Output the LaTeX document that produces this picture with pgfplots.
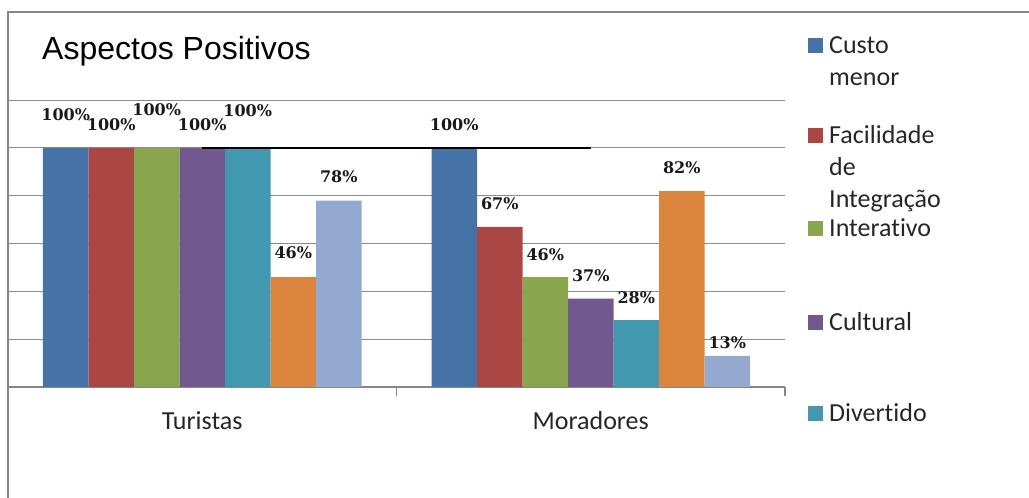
\documentclass[border=0pt]{standalone}
\usepackage{fontspec}
\setmainfont{Carlito}[Ligatures={NoCommon}]
\newfontfamily\titlefont{Liberation Sans}
\newfontfamily\numfont{DejaVu Serif}
\usepackage{pgfplots}
\usepackage{pgfplotstable}
\pgfplotsset{compat=1.18}

\definecolor{cA}{HTML}{4572A7}
\definecolor{cB}{HTML}{AA4643}
\definecolor{cC}{HTML}{89A54E}
\definecolor{cD}{HTML}{71588F}
\definecolor{cE}{HTML}{4198AF}
\definecolor{cF}{HTML}{DB843D}
\definecolor{cG}{HTML}{93A9CF}
\definecolor{gridgray}{RGB}{140,140,140}
\definecolor{framegray}{RGB}{134,134,134}

% x = 0 Turistas, x = 1 Moradores; dy = lift of the value label above the bar
\pgfplotstableread{
x y dy
0 100 27.3
1 100 17.3
}\custo
\pgfplotstableread{
x y dy
0 100 17.3
1 67 17
}\facilidade
\pgfplotstableread{
x y dy
0 100 32
1 46 17
}\interativo
\pgfplotstableread{
x y dy
0 100 17.3
1 37 17
}\cultural
\pgfplotstableread{
x y dy
0 100 31.3
1 28 17
}\divertido
\pgfplotstableread{
x y dy
0 46 19
1 82 17.7
}\serieF
\pgfplotstableread{
x y dy
0 78 17.6
1 13 7.7
}\serieG
\pgfplotstableread{
x y
0 100
1 100
}\total

% legend text: first-line baseline sits 8pt below the cell centre
\newcommand{\legtext}[2]{\raisebox{0pt}[\dimexpr#1+16pt\relax][#1]{\vtop{#2}}}

\begin{document}
\begin{tikzpicture}
\useasboundingbox (0pt,0pt) rectangle (1029pt,498pt);
\draw[framegray, line width=2pt] (8pt,0pt) -- (8pt,486pt) -- (1029pt,486pt);
\node[anchor=base west, inner sep=0pt, font=\titlefont\fontsize{32}{38}\selectfont]
  at (42pt,438pt) {Aspectos Positivos};
\begin{axis}[
  at={(8pt,111pt)}, anchor=south west,
  scale only axis, width=777pt, height=286.8pt,
  xmin=-0.5, xmax=1.5, ymin=0, ymax=120,
  clip=false,
  ybar=0pt, bar width=45.5pt,
  axis lines*=left,
  axis line style={draw=framegray, line width=1.2pt},
  ytick={20,40,...,120}, yticklabels={},
  ytick style={draw=none},
  ymajorgrids, grid style={draw=gridgray, line width=1pt},
  xtick={-0.5,0.5,1.5}, xticklabels={},
  tick align=outside, major tick length=9pt,
  xtick style={draw=framegray, line width=1.2pt},
  extra x ticks={0,1},
  extra x tick labels={Turistas,Moradores},
  extra x tick style={major tick length=0pt, xmajorgrids=false,
    xticklabel style={anchor=base, yshift=-43pt}},
  xticklabel style={font=\fontsize{26}{31}\selectfont, text=black!85},
  legend cell align=left,
  legend style={draw=none, fill=none, inner sep=0pt, row sep=0pt, column sep=6pt,
    at={(1.0296,1.3414)}, anchor=north west,
    font=\fontsize{26}{32}\selectfont, text=black!85,
    nodes={inner sep=0pt, text depth=}},
  legend image code/.code={\fill[#1] (0pt,-7.5pt) rectangle (15pt,7.5pt);},
  lbl/.style={
    point meta=y,
    visualization depends on={\thisrow{dy} \as \dy},
    nodes near coords={\pgfmathprintnumber[fixed,precision=0]{\pgfplotspointmeta}\%},
    every node near coord/.append style={anchor=base, inner sep=0pt, yshift=\dy pt,
      font=\numfont\bfseries\fontsize{16}{19}\selectfont, text=black!90},
    /pgf/number format/assume math mode=true},
]
\addplot[fill=cA, draw=none, bar shift=-136.5pt, lbl] table[x=x, y=y] {\custo};
\addplot[fill=cB, draw=none, bar shift=-91pt, lbl] table[x=x, y=y] {\facilidade};
\addplot[fill=cC, draw=none, bar shift=-45.5pt, lbl] table[x=x, y=y] {\interativo};
\addplot[fill=cD, draw=none, bar shift=0pt, lbl] table[x=x, y=y] {\cultural};
\addplot[fill=cE, draw=none, bar shift=45.5pt, lbl] table[x=x, y=y] {\divertido};
\addplot[fill=cF, draw=none, bar shift=91pt, lbl] table[x=x, y=y] {\serieF};
\addplot[fill=cG, draw=none, bar shift=136.5pt, lbl] table[x=x, y=y] {\serieG};
\addplot[sharp plot, draw=black, line width=1.3pt, mark=none, forget plot] table[x=x, y=y] {\total};
\legend{
  \legtext{35pt}{\hbox{Custo}\hbox{menor}},
  \legtext{39pt}{\hbox{Facilidade}\hbox{de}\hbox{Integração}},
  \legtext{38.4pt}{\hbox{Interativo}},
  \legtext{38.9pt}{\hbox{Cultural}},
  \legtext{36.8pt}{\hbox{Divertido}}
}
\end{axis}
\end{tikzpicture}
\end{document}
